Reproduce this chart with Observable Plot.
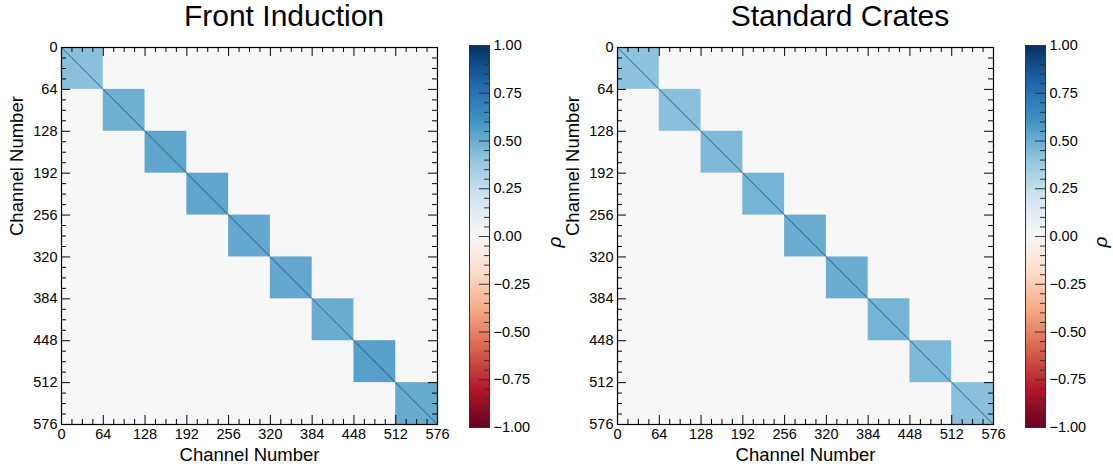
<!DOCTYPE html>
<html>
<head>
<meta charset="utf-8">
<script src="https://cdn.jsdelivr.net/npm/d3@7"></script>
<script src="https://cdn.jsdelivr.net/npm/@observablehq/plot@0.6"></script>
<style>
  html, body { margin: 0; padding: 0; background: #ffffff; overflow: hidden; }
  #root { position: relative; width: 1113px; height: 467px; font-family: "Liberation Sans", Arial, Helvetica, sans-serif; color: #000; }
  .panel { position: absolute; top: 0; }
  .title { position: absolute; top: 1px; font-size: 30px; line-height: 30px; white-space: nowrap; transform: translateX(-50%); }
</style>
</head>
<body>
<div id="root"></div>
<script>
// ---------------- data ----------------
const channelCount = 576;
const blockSize = 64;
const blockStarts = [0, 64, 128, 192, 256, 320, 384, 448, 512];
const frontInduction = [0.42, 0.49, 0.53, 0.53, 0.52, 0.52, 0.50, 0.55, 0.51];
const standardCrates = [0.41, 0.42, 0.45, 0.47, 0.50, 0.50, 0.47, 0.45, 0.42];
const offDiagonalRho = 0.0;
const diagonalRho = 1.0;
const panelTitles = ["Front Induction", "Standard Crates"];
const axisLabel = "Channel Number";
const colorbarLabel = "ρ";
const channelTicks = [0, 64, 128, 192, 256, 320, 384, 448, 512, 576];
const channelMinorTicks = [16, 32, 48, 80, 96, 112, 144, 160, 176, 208, 224, 240, 272, 288, 304, 336, 352, 368, 400, 416, 432, 464, 480, 496, 528, 544, 560];
const colorbarTicks = [-1, -0.75, -0.5, -0.25, 0, 0.25, 0.5, 0.75, 1];
const colorbarMinorTicks = [-0.95, -0.9, -0.85, -0.8, -0.7, -0.65, -0.6, -0.55, -0.45, -0.4, -0.35, -0.3, -0.2, -0.15, -0.1, -0.05,
                            0.05, 0.1, 0.15, 0.2, 0.3, 0.35, 0.4, 0.45, 0.55, 0.6, 0.65, 0.7, 0.8, 0.85, 0.9, 0.95];
const rdbuColors = ["#67001f", "#b2182b", "#d6604d", "#f4a582", "#fddbc7", "#f7f7f7", "#d1e5f0", "#92c5de", "#4393c3", "#2166ac", "#053061"];

// ---------------- shared ----------------
const FONT = '"Liberation Sans", Arial, Helvetica, sans-serif';
const colorScale = {
  type: "linear",
  domain: rdbuColors.map((_, i) => -1 + i * 0.2),
  range: rdbuColors,
  interpolate: "rgb"
};

function heatmap(values) {
  const W = 376, H = 377, mL = 61, mT = 47, mR = 23, mB = 43;
  const cells = [{x1: 0, x2: channelCount, y1: 0, y2: channelCount, rho: offDiagonalRho}];
  blockStarts.forEach((s, i) => cells.push({x1: s, x2: s + blockSize, y1: s, y2: s + blockSize, rho: values[i]}));
  const diag = d3.range(channelCount).map(i => ({x1: i, x2: i + 1, y1: i, y2: i + 1, rho: diagonalRho}));
  const id = d => d;
  return Plot.plot({
    width: mL + W + mR, height: mT + H + mB,
    marginLeft: mL, marginTop: mT, marginRight: mR, marginBottom: mB,
    x: {domain: [0, channelCount]},
    y: {domain: [0, channelCount], reverse: true},
    color: colorScale,
    style: {fontFamily: FONT, fontSize: "14.5px", color: "#000", background: "transparent", overflow: "visible"},
    marks: [
      Plot.rect(cells, {x1: "x1", x2: "x2", y1: "y1", y2: "y2", fill: "rho", inset: 0}),
      Plot.rect(diag, {x1: "x1", x2: "x2", y1: "y1", y2: "y2", fill: "rho", inset: -0.15, fillOpacity: 0.5}),
      // inward ticks on all four sides
      Plot.ruleX(channelTicks, {x: id, insetTop: H - 9, stroke: "#000"}),
      Plot.ruleX(channelTicks, {x: id, insetBottom: H - 9, stroke: "#000"}),
      Plot.ruleX(channelMinorTicks, {x: id, insetTop: H - 5, stroke: "#000"}),
      Plot.ruleX(channelMinorTicks, {x: id, insetBottom: H - 5, stroke: "#000"}),
      Plot.ruleY(channelTicks, {y: id, insetRight: W - 9, stroke: "#000"}),
      Plot.ruleY(channelTicks, {y: id, insetLeft: W - 9, stroke: "#000"}),
      Plot.ruleY(channelMinorTicks, {y: id, insetRight: W - 5, stroke: "#000"}),
      Plot.ruleY(channelMinorTicks, {y: id, insetLeft: W - 5, stroke: "#000"}),
      Plot.axisX(channelTicks, {anchor: "bottom", tickSize: 0, tickPadding: 4, label: null, fontSize: 14.5}),
      Plot.axisY(channelTicks, {anchor: "left", tickSize: 0, tickPadding: 4, label: null, fontSize: 14.5}),
      Plot.frame({stroke: "#000", strokeWidth: 1.2}),
      Plot.text([axisLabel], {text: id, frameAnchor: "bottom", dy: 36, fontSize: 18.5, fill: "#000"}),
      Plot.text([axisLabel], {text: id, frameAnchor: "left", dx: -44, rotate: -90, fontSize: 18.5, fill: "#000"})
    ]
  });
}

function colorbar(labelDx) {
  const W = 20, mL = 30, mR = 68, mT = 45, mB = 40;
  const step = 0.004;
  const bands = d3.range(-1, 1, step); // colour-ramp sampling for the legend
  const id = d => d;
  return Plot.plot({
    width: mL + W + mR, height: 467,
    marginLeft: mL, marginTop: mT, marginRight: mR, marginBottom: mB,
    x: {domain: [0, 1], axis: null},
    y: {domain: [-1, 1]},
    color: colorScale,
    style: {fontFamily: FONT, fontSize: "14.5px", color: "#000", background: "transparent", overflow: "visible"},
    marks: [
      Plot.rect(bands, {x1: 0, x2: 1, y1: id, y2: d => Math.min(1, d + step * 1.5), fill: d => d + step / 2, inset: 0, shapeRendering: "crispEdges"}),
      Plot.ruleY(colorbarMinorTicks, {y: id, insetLeft: W - 5, stroke: "#333", strokeWidth: 1}),
      Plot.ruleY(colorbarTicks, {y: id, insetLeft: W - 10, stroke: "#333", strokeWidth: 1}),
      Plot.axisY(colorbarTicks, {anchor: "right", tickSize: 0, tickPadding: 4, label: null, tickFormat: d3.format(".2f"), fontSize: 14.5}),
      Plot.frame({stroke: "#333", strokeWidth: 1}),
      Plot.text([colorbarLabel], {text: id, frameAnchor: "right", dx: labelDx, rotate: -90, fontSize: 19, fontStyle: "italic", fill: "#000"})
    ]
  });
}

// ---------------- layout ----------------
const root = document.getElementById("root");
function place(node, left) {
  node.classList.add("panel");
  node.style.left = left + "px";
  root.appendChild(node);
}
place(heatmap(frontInduction), 0);
place(colorbar(65), 439);
place(heatmap(standardCrates), 556);
place(colorbar(55), 995);

[[panelTitles[0], 284], [panelTitles[1], 840]].forEach(([t, cx]) => {
  const div = document.createElement("div");
  div.className = "title";
  div.style.left = cx + "px";
  div.textContent = t;
  root.appendChild(div);
});
</script>
</body>
</html>
